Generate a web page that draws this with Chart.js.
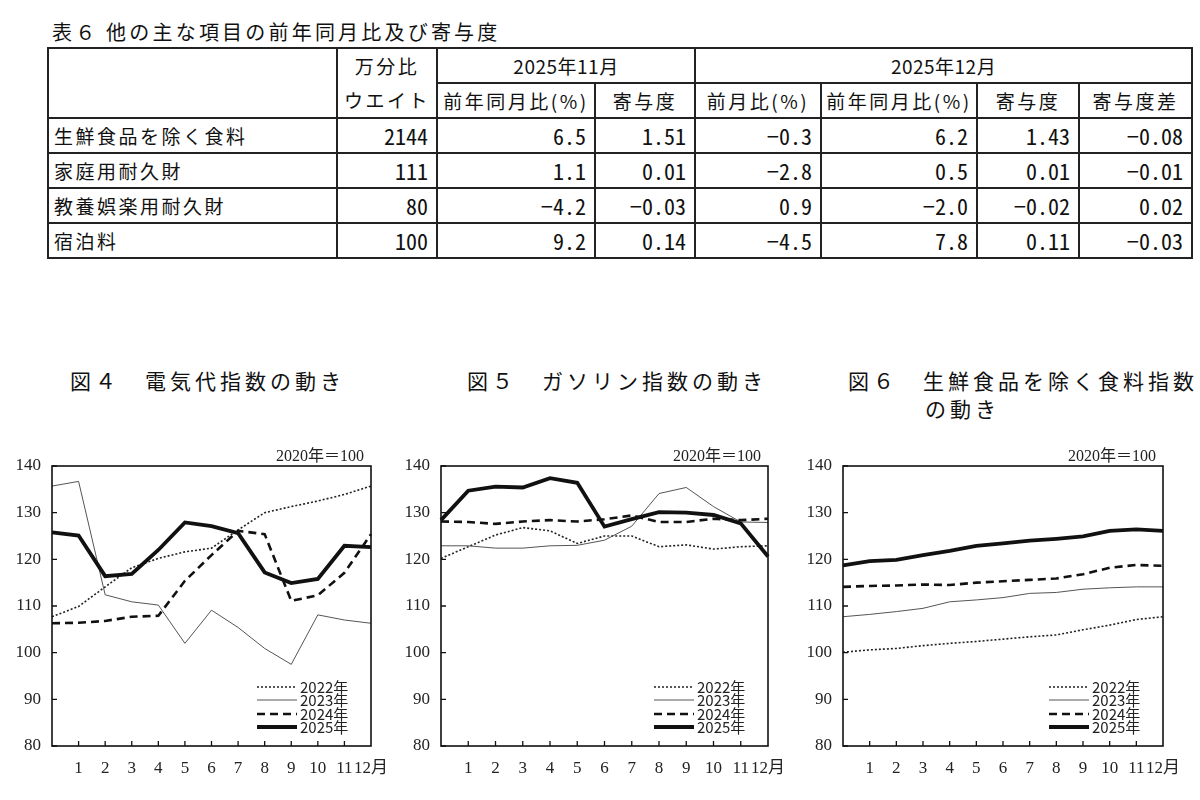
<!DOCTYPE html>
<html lang="ja">
<head>
<meta charset="utf-8">
<script src="https://cdn.jsdelivr.net/npm/chart.js@4.4.1/dist/chart.umd.min.js"></script>
<style>
    body {
        margin: 0;
        width: 1200px;
        height: 800px;
        overflow: hidden;
        background: #fff;
        color: #111;
        font-family: "Noto Sans CJK JP", sans-serif;
        position: relative;
    }
    .tbl-title {
        position: absolute;
        left: 52px;
        top: 18px;
        font-size: 20px;
        line-height: 28px;
        letter-spacing: 3.2px;
        white-space: nowrap;
    }
    table {
        position: absolute;
        left: 47px;
        top: 47px;
        width: 1144px;
        border-collapse: collapse;
        table-layout: fixed;
        font-size: 19px;
    }
    td, th {
        border: 2px solid #222;
        padding: 0 8px;
        height: 31px;
        line-height: 31px;
        font-weight: normal;
        white-space: nowrap;
        letter-spacing: 2.5px;
        overflow: hidden;
    }
    tbody td { height: 33px; line-height: 33px; }
    th { text-align: center; padding: 0 2px; }
    th.period { letter-spacing: 0.5px; }
    td.label { text-align: left; padding-left: 5px; }
    td.num {
        text-align: right;
        font-family: "Noto Sans Mono CJK JP", "DejaVu Sans Mono", monospace;
        font-size: 22px;
        letter-spacing: 0;
    }
    .fig-title {
        position: absolute;
        top: 366px;
        font-size: 21px;
        line-height: 28px;
        letter-spacing: 4px;
        white-space: nowrap;
    }
    canvas { position: absolute; top: 440px; }
</style>
</head>
<body>
<div class="tbl-title">表６ 他の主な項目の前年同月比及び寄与度</div>
<table id="tbl">
    <colgroup>
        <col style="width:289px"><col style="width:100px"><col style="width:158px"><col style="width:100px">
        <col style="width:126px"><col style="width:156px"><col style="width:102px"><col style="width:113px">
    </colgroup>
    <thead>
        <tr>
            <th rowspan="2" style="line-height:34px"></th>
            <th rowspan="2" style="line-height:34px">万分比<br>ウエイト</th>
            <th colspan="2" class="period">2025年11月</th>
            <th colspan="4" class="period">2025年12月</th>
        </tr>
        <tr>
            <th>前年同月比(%)</th><th>寄与度</th>
            <th>前月比(%)</th><th>前年同月比(%)</th><th>寄与度</th><th>寄与度差</th>
        </tr>
    </thead>
    <tbody id="tbody"></tbody>
</table>

<div class="fig-title" style="left:70px">図４　電気代指数の動き</div>
<div class="fig-title" style="left:467px">図５　ガソリン指数の動き</div>
<div class="fig-title" style="left:848px">図６　生鮮食品を除く食料指数<br><span style="padding-left:77px">の動き</span></div>

<canvas id="c4" width="400" height="350" style="left:0px"></canvas>
<canvas id="c5" width="400" height="350" style="left:400px"></canvas>
<canvas id="c6" width="410" height="350" style="left:790px"></canvas>

<script>
// ---- table data ----
const items = ['生鮮食品を除く食料', '家庭用耐久財', '教養娯楽用耐久財', '宿泊料'];
const weights = ['2144', '111', '80', '100'];
const novYoY = ['6.5', '1.1', '−4.2', '9.2'];
const novContrib = ['1.51', '0.01', '−0.03', '0.14'];
const decMoM = ['−0.3', '−2.8', '0.9', '−4.5'];
const decYoY = ['6.2', '0.5', '−2.0', '7.8'];
const decContrib = ['1.43', '0.01', '−0.02', '0.11'];
const decContribDiff = ['−0.08', '−0.01', '0.02', '−0.03'];

// ---- chart data ----
const months = ['', '1', '2', '3', '4', '5', '6', '7', '8', '9', '10', '11', '12月'];
const yearNames = ['2022年', '2023年', '2024年', '2025年'];
const yTicks = [80, 90, 100, 110, 120, 130, 140];
const baseNote = '2020年＝100';

// 図4 電気代
const elec2022 = [107.7, 109.9, 114.1, 118.2, 120.2, 121.6, 122.4, 126.3, 130.0, 131.3, 132.5, 133.9, 135.7];
const elec2023 = [135.7, 136.7, 112.4, 110.9, 110.2, 102.0, 109.1, 105.4, 100.9, 97.5, 108.1, 107.0, 106.3];
const elec2024 = [106.3, 106.4, 106.8, 107.7, 107.9, 115.4, 120.9, 126.1, 125.4, 111.1, 112.3, 117.1, 125.4];
const elec2025 = [125.8, 125.1, 116.4, 116.9, 122.0, 127.9, 127.1, 125.6, 117.2, 114.9, 115.8, 122.9, 122.6];

// 図5 ガソリン
const gas2022 = [120.2, 122.7, 125.2, 126.8, 126.1, 123.4, 125.0, 125.0, 122.7, 123.1, 122.2, 122.7, 122.9];
const gas2023 = [122.9, 122.9, 122.4, 122.4, 122.9, 123.0, 124.1, 127.1, 134.1, 135.4, 131.3, 128.0, 127.9];
const gas2024 = [128.1, 128.0, 127.6, 128.1, 128.4, 128.1, 128.6, 129.4, 128.0, 128.0, 128.7, 128.4, 128.7];
const gas2025 = [128.4, 134.7, 135.6, 135.4, 137.4, 136.4, 127.0, 128.6, 130.1, 130.0, 129.5, 127.7, 120.6];

// 図6 生鮮食品を除く食料
const food2022 = [100.1, 100.6, 100.9, 101.5, 102.0, 102.4, 102.9, 103.4, 103.8, 104.9, 105.9, 107.1, 107.7];
const food2023 = [107.7, 108.2, 108.8, 109.5, 110.9, 111.3, 111.8, 112.7, 112.9, 113.6, 113.9, 114.1, 114.1];
const food2024 = [114.1, 114.3, 114.4, 114.6, 114.5, 115.0, 115.3, 115.6, 115.9, 116.8, 118.2, 118.8, 118.6];
const food2025 = [118.7, 119.6, 119.9, 120.9, 121.8, 122.9, 123.4, 124.0, 124.4, 124.9, 126.1, 126.4, 126.1];

// build the table body
const tbody = document.getElementById('tbody');
items.forEach((name, i) => {
    const cells = [weights[i], novYoY[i], novContrib[i], decMoM[i], decYoY[i], decContrib[i], decContribDiff[i]];
    const tr = document.createElement('tr');
    tr.innerHTML = `<td class="label">${name}</td>` + cells.map(v => `<td class="num">${v}</td>`).join('');
    tbody.appendChild(tr);
});

// line styles for each year
const lineStyles = [
    { borderColor: '#222', borderWidth: 1.6, borderDash: [2, 2], order: 4 },
    { borderColor: '#555', borderWidth: 1, borderDash: [], order: 3 },
    { borderColor: '#111', borderWidth: 2.6, borderDash: [8, 5], order: 2 },
    { borderColor: '#111', borderWidth: 3.8, borderDash: [], order: 1 }
];

// frame, inner ticks, base note and legend
const framePlugin = {
    id: 'frame',
    afterDatasetsDraw(chart) {
        const { ctx, chartArea: a, scales } = chart;
        ctx.save();
        ctx.strokeStyle = '#111';
        ctx.lineWidth = 1.6;
        ctx.strokeRect(a.left, a.top, a.right - a.left, a.bottom - a.top);

        ctx.lineWidth = 1.3;
        ctx.beginPath();
        yTicks.forEach(v => {
            const py = scales.y.getPixelForValue(v);
            ctx.moveTo(a.left, py);
            ctx.lineTo(a.left + 5, py);
        });
        for (let i = 1; i < months.length - 1; i++) {
            const px = scales.x.getPixelForValue(i);
            ctx.moveTo(px, a.bottom);
            ctx.lineTo(px, a.bottom - 5);
        }
        ctx.stroke();

        ctx.fillStyle = '#222';
        ctx.font = '16px "Liberation Serif", "Noto Sans CJK JP"';
        ctx.textAlign = 'right';
        ctx.textBaseline = 'middle';
        ctx.fillText(baseNote, a.right - 7, a.top - 9);

        // legend inside lower right
        const rows = [-59, -46, -32, -19];
        ctx.font = '15px "Noto Sans CJK JP"';
        ctx.textAlign = 'left';
        chart.data.datasets.forEach((ds, i) => {
            const yy = a.bottom + rows[i];
            ctx.strokeStyle = ds.borderColor;
            ctx.lineWidth = ds.borderWidth;
            ctx.setLineDash(ds.borderDash);
            ctx.beginPath();
            ctx.moveTo(a.right - 114, yy);
            ctx.lineTo(a.right - 74, yy);
            ctx.stroke();
            ctx.setLineDash([]);
            ctx.fillText(ds.label, a.right - 71, yy);
        });
        ctx.restore();
    }
};

function makeChart(id, series, plotLeft, rightPad) {
    return new Chart(document.getElementById(id), {
        type: 'line',
        data: {
            labels: months,
            datasets: series.map((data, i) => ({
                label: yearNames[i],
                data: data,
                fill: false,
                pointRadius: 0,
                tension: 0,
                ...lineStyles[i]
            }))
        },
        options: {
            responsive: false,
            animation: false,
            layout: { padding: { top: 26, right: rightPad, left: 0, bottom: 0 } },
            plugins: { legend: { display: false }, tooltip: { enabled: false } },
            scales: {
                x: {
                    grid: { display: false, drawTicks: false },
                    border: { display: false },
                    ticks: {
                        autoSkip: false,
                        maxRotation: 0,
                        padding: 12,
                        color: '#222',
                        font: { family: '"Liberation Serif", "Noto Sans CJK JP"', size: 17 }
                    },
                    afterFit(scale) { scale.height = 44; }
                },
                y: {
                    min: 80,
                    max: 140,
                    grid: { display: false, drawTicks: false },
                    border: { display: false },
                    ticks: {
                        stepSize: 10,
                        padding: 11,
                        color: '#222',
                        font: { family: '"Liberation Serif"', size: 17 }
                    },
                    afterFit(scale) { scale.width = plotLeft; }
                }
            }
        },
        plugins: [framePlugin]
    });
}

makeChart('c4', [elec2022, elec2023, elec2024, elec2025], 52, 28);
makeChart('c5', [gas2022, gas2023, gas2024, gas2025], 41, 32);
makeChart('c6', [food2022, food2023, food2024, food2025], 53, 37);
</script>
</body>
</html>
